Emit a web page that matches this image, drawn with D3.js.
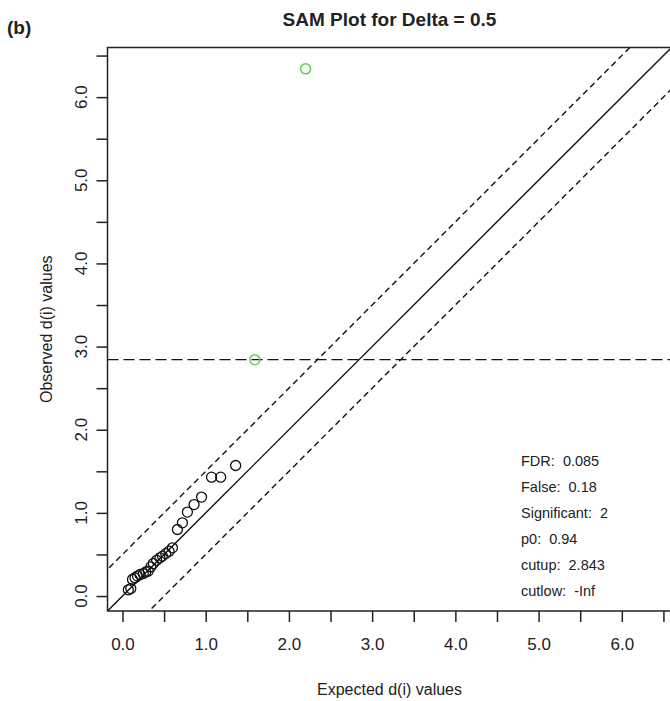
<!DOCTYPE html>
<html>
<head>
	<meta charset="utf-8">
	<title>SAM Plot for Delta = 0.5</title>
	<style>
		body {
			margin: 0;
			background: white;
		}
		svg {
			display: block;
			font-family: 'Liberation Sans', Arial, sans-serif;
		}
	</style>
</head>
<body>
	<svg width="670" height="701"></svg>
<script src="https://cdn.jsdelivr.net/npm/d3@7"></script>
<script>

	// expected vs observed d(i) for the non significant genes
	let expectedPlain = [0.07, 0.10, 0.12, 0.15, 0.18, 0.21, 0.25, 0.28, 0.31, 0.34, 0.37, 0.41,
		0.45, 0.48, 0.52, 0.56, 0.60, 0.66, 0.72, 0.78, 0.86, 0.95, 1.07, 1.18, 1.36]
	let observedPlain = [0.075, 0.09, 0.20, 0.22, 0.24, 0.26, 0.27, 0.29, 0.30, 0.35, 0.39, 0.43,
		0.46, 0.48, 0.51, 0.54, 0.58, 0.80, 0.88, 1.01, 1.10, 1.19, 1.43, 1.43, 1.57]

	// the two called significant (green)
	let expectedSig = [1.59, 2.20]
	let observedSig = [2.843, 6.34]

	let delta = 0.5
	let cutup = 2.843

	let majorTicks = [0, 1, 2, 3, 4, 5, 6]
	let allTicks = [0, 0.5, 1, 1.5, 2, 2.5, 3, 3.5, 4, 4.5, 5, 5.5, 6, 6.5]

	let summaryLines = ['FDR:  0.085', 'False:  0.18', 'Significant:  2', 'p0:  0.94', 'cutup:  2.843', 'cutlow:  -Inf']

	// plot box edges
	let boxL = 107.5, boxR = 671.5, boxT = 47.5, boxB = 611
	let lim = [-0.18, 6.597]

	let svg = d3.select('svg')

	let x = d3.scaleLinear().domain(lim).range([boxL, boxR])
	let y = d3.scaleLinear().domain(lim).range([boxB, boxT])

	svg.append('defs').append('clipPath')
		.attr('id', 'plotclip')
		.append('rect')
		.attr('x', boxL)
		.attr('y', boxT)
		.attr('width', boxR - boxL)
		.attr('height', boxB - boxT)

	let plot = svg.append('g').attr('clip-path', 'url(#plotclip)')

	// identity line and the +/- delta bands
	let bands = [
		{ off: 0, dash: null },
		{ off: delta, dash: '6,4' },
		{ off: -delta, dash: '6,4' }
	]
	plot.selectAll('.band')
		.data(bands)
		.join('line')
		.attr('x1', x(lim[0] - 1))
		.attr('y1', d => y(lim[0] - 1 + d.off))
		.attr('x2', x(lim[1] + 1))
		.attr('y2', d => y(lim[1] + 1 + d.off))
		.style('stroke', '#111')
		.style('stroke-width', 1.4)
		.style('stroke-dasharray', d => d.dash)

	// cutup line
	plot.append('line')
		.attr('x1', boxL)
		.attr('x2', boxR)
		.attr('y1', y(cutup))
		.attr('y2', y(cutup))
		.style('stroke', '#111')
		.style('stroke-width', 1.4)
		.style('stroke-dasharray', '11,5')

	let plain = expectedPlain.map((e, i) => ({ e: e, o: observedPlain[i] }))
	let sig = expectedSig.map((e, i) => ({ e: e, o: observedSig[i] }))

	plot.selectAll('.pt')
		.data(plain)
		.join('circle')
		.attr('cx', d => x(d.e))
		.attr('cy', d => y(d.o))
		.attr('r', 5)
		.style('fill', 'none')
		.style('stroke', '#111')
		.style('stroke-width', 1.3)

	plot.selectAll('.sig')
		.data(sig)
		.join('circle')
		.attr('cx', d => x(d.e))
		.attr('cy', d => y(d.o))
		.attr('r', 5)
		.style('fill', 'none')
		.style('stroke', '#61D04F')
		.style('stroke-width', 1.5)

	// box
	svg.append('rect')
		.attr('x', boxL)
		.attr('y', boxT)
		.attr('width', boxR - boxL)
		.attr('height', boxB - boxT)
		.style('fill', 'none')
		.style('stroke', '#222')
		.style('stroke-width', 1.5)

	// axes, R style: ticks every 0.5, labels on whole numbers
	let xAxis = d3.axisBottom(x)
		.tickValues(allTicks)
		.tickSize(11)
		.tickPadding(16)
		.tickFormat(d => majorTicks.includes(d) ? d3.format('.1f')(d) : '')

	let gx = svg.append('g')
		.attr('transform', `translate(0,${boxB})`)
		.call(xAxis)
	gx.select('.domain').remove()
	gx.selectAll('line').style('stroke', '#222').style('stroke-width', 1.5)
	gx.selectAll('text')
		.style('font-size', '17px')
		.style('fill', '#222')
		.style('font-family', "'Liberation Sans', Arial, sans-serif")

	let yAxis = d3.axisLeft(y)
		.tickValues(allTicks)
		.tickSize(11)
		.tickFormat('')

	let gy = svg.append('g')
		.attr('transform', `translate(${boxL},0)`)
		.call(yAxis)
	gy.select('.domain').remove()
	gy.selectAll('line').style('stroke', '#222').style('stroke-width', 1.5)

	svg.append('g').selectAll('text')
		.data(majorTicks)
		.join('text')
		.attr('transform', d => `translate(87,${y(d)}) rotate(-90)`)
		.attr('text-anchor', 'middle')
		.style('font-size', '17px')
		.style('fill', '#222')
		.text(d => d3.format('.1f')(d))

	// titles
	svg.append('text')
		.attr('x', (boxL + boxR) / 2)
		.attr('y', 26)
		.attr('text-anchor', 'middle')
		.style('font-size', '19px')
		.style('font-weight', 'bold')
		.style('fill', '#222')
		.text('SAM Plot for Delta = 0.5')

	svg.append('text')
		.attr('x', 7)
		.attr('y', 34)
		.style('font-size', '19px')
		.style('font-weight', 'bold')
		.style('fill', '#222')
		.text('(b)')

	svg.append('text')
		.attr('x', (boxL + boxR) / 2)
		.attr('y', 695)
		.attr('text-anchor', 'middle')
		.style('font-size', '16px')
		.style('fill', '#222')
		.text('Expected d(i) values')

	svg.append('text')
		.attr('transform', `translate(52,${(boxT + boxB) / 2}) rotate(-90)`)
		.attr('text-anchor', 'middle')
		.style('font-size', '16px')
		.style('fill', '#222')
		.text('Observed d(i) values')

	// summary text
	svg.append('g').selectAll('text')
		.data(summaryLines)
		.join('text')
		.attr('x', 521)
		.attr('y', (d, i) => 466 + i * 26)
		.style('font-size', '14.5px')
		.style('fill', '#222')
		.style('white-space', 'pre')
		.text(d => d)

</script>
</body>
</html>
